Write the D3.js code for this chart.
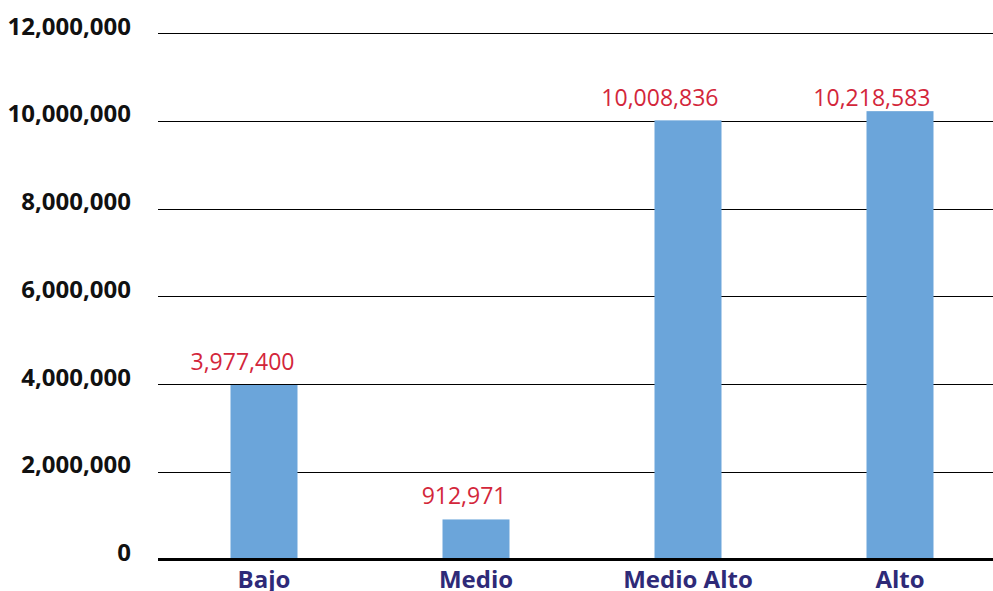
<!DOCTYPE html>
<meta charset="utf-8">
<style>
body { margin: 0; background: #fff; }
.grid line { stroke: #000; stroke-width: 1.3; shape-rendering: crispEdges; }
.ytick { font: bold 24px "Open Sans", sans-serif; fill: #111; }
.val { font: 23px "Open Sans", sans-serif; fill: #d3263a; }
.cat { font: bold 24px "Open Sans", sans-serif; fill: #2e2a78; }
</style>
<body>
<script src="https://cdnjs.cloudflare.com/ajax/libs/d3/7.8.5/d3.min.js"></script>
<script>

var categories = ["Bajo", "Medio", "Medio Alto", "Alto"];
var values = [3977400, 912971, 10008836, 10218583];
var yTicks = [0, 2000000, 4000000, 6000000, 8000000, 10000000, 12000000];

var width = 993, height = 591;

var svg = d3.select("body").append("svg")
    .attr("width", width)
    .attr("height", height);

var y = d3.scaleLinear().domain([0, 12000000]).range([559.5, 33]);
var x = d3.scaleBand().domain(categories).range([158, 1006])
    .paddingInner(0.684).paddingOuter(0.342);

var fmt = d3.format(",");

// gridlines
svg.append("g").attr("class", "grid")
  .selectAll("line")
    .data(yTicks.slice(1))
  .enter().append("line")
    .attr("x1", 158).attr("x2", width)
    .attr("y1", function(d) { return Math.round(y(d)) + 0.5; })
    .attr("y2", function(d) { return Math.round(y(d)) + 0.5; });

// tick labels
svg.selectAll(".ytick")
    .data(yTicks)
  .enter().append("text")
    .attr("class", "ytick")
    .attr("x", 131)
    .attr("y", function(d) { return y(d) + 1.5; })
    .style("text-anchor", "end")
    .text(function(d) { return fmt(d); });

// bars
svg.selectAll(".bar")
    .data(values)
  .enter().append("rect")
    .attr("class", "bar")
    .attr("x", function(d, i) { return x(categories[i]); })
    .attr("width", x.bandwidth())
    .attr("y", function(d) { return y(d); })
    .attr("height", function(d) { return y(0) - y(d); })
    .style("fill", "#6ba5da");

// baseline
svg.append("line")
    .attr("x1", 158).attr("x2", width)
    .attr("y1", y(0)).attr("y2", y(0))
    .style("stroke", "#000")
    .style("stroke-width", 3);

// value labels (right-aligned to the bar's right edge, kept below the 10M line level)
svg.selectAll(".val")
    .data(values)
  .enter().append("text")
    .attr("class", "val")
    .attr("x", function(d, i) { return x(categories[i]) + x.bandwidth() - 3; })
    .attr("y", function(d) { return Math.max(y(d), y(10000000)) - 15; })
    .style("text-anchor", "end")
    .text(function(d) { return fmt(d); });

// category labels
svg.selectAll(".cat")
    .data(categories)
  .enter().append("text")
    .attr("class", "cat")
    .attr("x", function(d) { return x(d) + x.bandwidth() / 2; })
    .attr("y", 588)
    .style("text-anchor", "middle")
    .text(function(d) { return d; });

</script>
